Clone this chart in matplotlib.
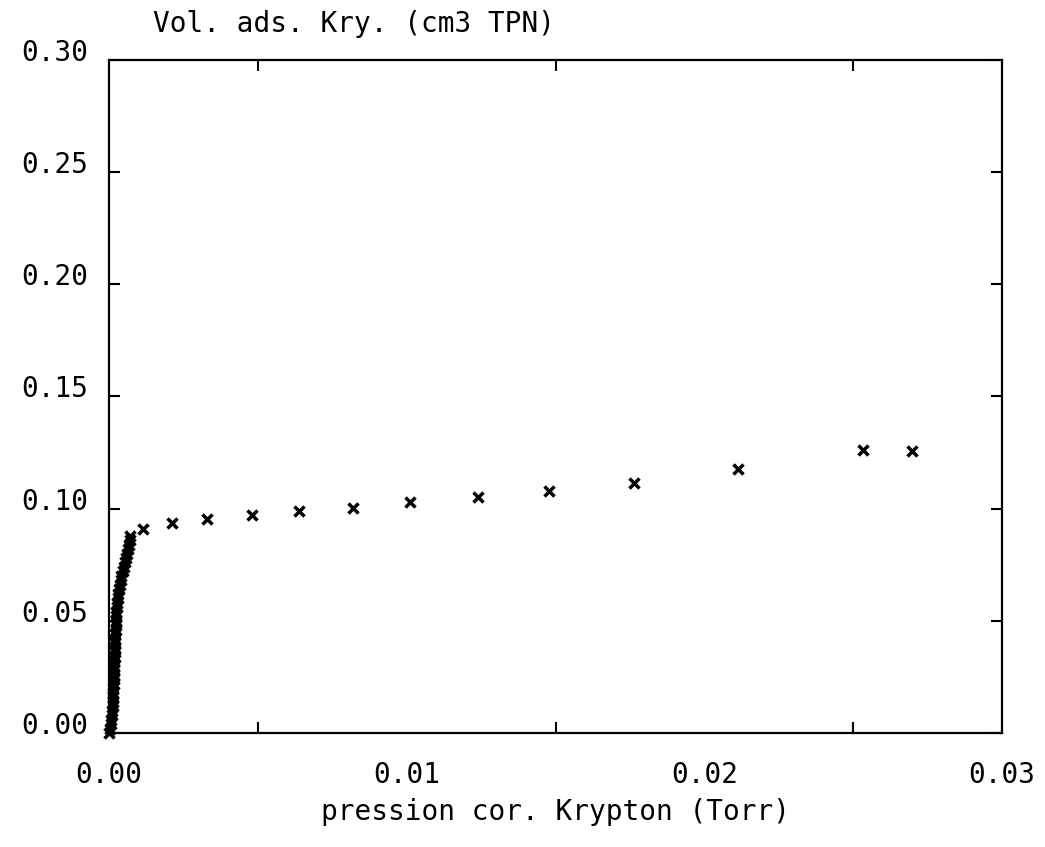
import matplotlib
matplotlib.use("Agg")
import matplotlib.pyplot as plt
import matplotlib.transforms as mtransforms
import numpy as np

# krypton adsorption isotherm
# steep part close to p = 0
p_low = [0.00000, 0.00003, 0.00006, 0.00008, 0.00010, 0.00011, 0.00012,
         0.00013, 0.00014, 0.00015, 0.00015, 0.00016, 0.00016, 0.00017,
         0.00017, 0.00018, 0.00018, 0.00019, 0.00019, 0.00020, 0.00020,
         0.00021, 0.00021, 0.00022, 0.00022, 0.00023, 0.00024, 0.00025,
         0.00026, 0.00027, 0.00029, 0.00031, 0.00033, 0.00036, 0.00039,
         0.00042, 0.00046, 0.00050, 0.00054, 0.00058, 0.00062, 0.00065,
         0.00068, 0.00070, 0.00071]
v_low = [0.000, 0.002, 0.004, 0.006, 0.008, 0.010, 0.012, 0.014, 0.016,
         0.018, 0.020, 0.022, 0.024, 0.026, 0.028, 0.030, 0.032, 0.034,
         0.036, 0.038, 0.040, 0.042, 0.044, 0.046, 0.048, 0.050, 0.052,
         0.054, 0.056, 0.058, 0.060, 0.062, 0.064, 0.066, 0.068, 0.070,
         0.072, 0.074, 0.076, 0.078, 0.080, 0.082, 0.084, 0.086, 0.088]

# plateau points
p_high = [0.00114, 0.00212, 0.00329, 0.00480, 0.00638, 0.00820, 0.01011,
          0.01240, 0.01478, 0.01764, 0.02113, 0.02533, 0.02697]
v_high = [0.0909, 0.0936, 0.0954, 0.0972, 0.0990, 0.1003, 0.1030,
          0.1052, 0.1079, 0.1115, 0.1177, 0.1262, 0.1257]

x_ticks = [0.00, 0.01, 0.02, 0.03]
y_ticks = [0.00, 0.05, 0.10, 0.15, 0.20, 0.25, 0.30]

plt.rcParams['font.family'] = ['DejaVu Sans Mono']
fs = 20

fig = plt.figure(figsize=(10.45, 8.47), dpi=100)
ax = fig.add_axes([0.1043, 0.1346, 0.8546, 0.9292 - 0.1346])

ax.plot(p_low + p_high, v_low + v_high, linestyle='none', marker='x',
        color='black', markersize=7, markeredgewidth=2.5, clip_on=False)

ax.set_xlim(0, 0.03)
ax.set_ylim(0, 0.30)

ax.set_xticks(x_ticks)
ax.set_xticklabels(["%.2f" % t for t in x_ticks], fontsize=fs)
ax.set_yticks(y_ticks)
ax.set_yticklabels(["%.2f" % t for t in y_ticks], fontsize=fs)

# top and bottom axes carry finer ticks every 0.005
ax.set_xticks(np.arange(0, 0.0301, 0.005), minor=True)
ax.tick_params(axis='x', which='major', direction='in', length=0,
               pad=20, top=False, bottom=False)
ax.tick_params(axis='x', which='minor', direction='in', top=True,
               bottom=True, length=8, width=1.5, labelbottom=False)
ax.tick_params(axis='y', which='major', direction='in', left=True,
               right=True, length=8, width=1.5, pad=15)

# y labels sit a bit above their ticks on the original plot
offset = mtransforms.ScaledTranslation(0, 0.10, fig.dpi_scale_trans)
for lab in ax.get_yticklabels():
    lab.set_transform(lab.get_transform() + offset)

for s in ax.spines.values():
    s.set_linewidth(1.6)

ax.set_xlabel("pression cor. Krypton (Torr)", fontsize=fs, va='center')
ax.xaxis.set_label_coords(0.5, -0.118)

fig.text(0.146, 0.972, "Vol. ads. Kry. (cm3 TPN)", fontsize=fs,
         ha='left', va='center')

fig.savefig("out.png", dpi=100)
